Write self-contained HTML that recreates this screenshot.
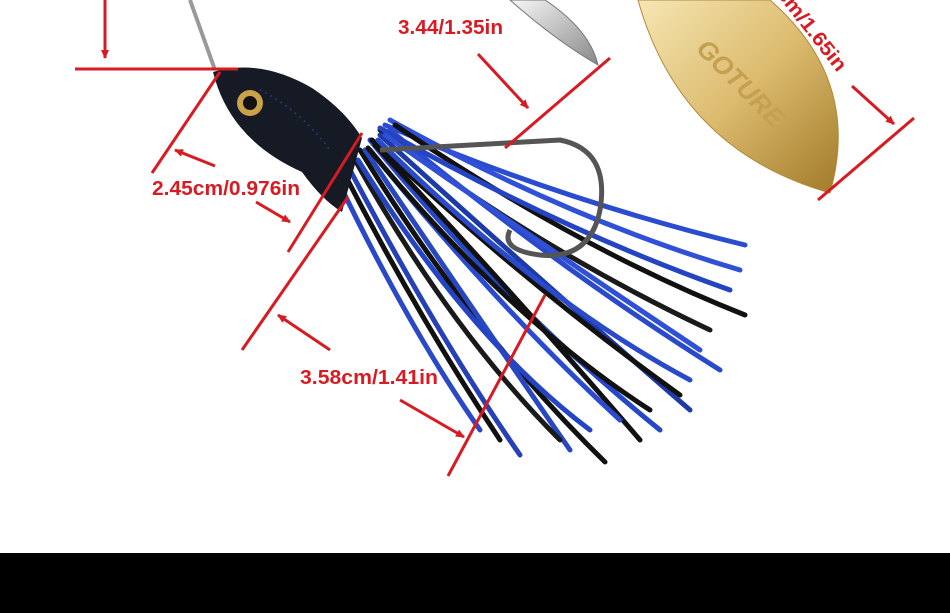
<!DOCTYPE html>
<html><head><meta charset="utf-8"><style>
html,body{margin:0;padding:0;background:#fff;}
svg{display:block}
text{font-family:"Liberation Sans",sans-serif;font-weight:bold;fill:#d81a22;font-size:20px;}
</style></head><body>
<svg width="950" height="613" viewBox="0 0 950 613" xmlns="http://www.w3.org/2000/svg">
<defs>
<linearGradient id="gold" x1="0" y1="0" x2="1" y2="1">
<stop offset="0" stop-color="#f6e6b4"/><stop offset="0.5" stop-color="#dcbb6e"/><stop offset="1" stop-color="#a27a2a"/></linearGradient>
<linearGradient id="silv" x1="0" y1="0" x2="1" y2="1">
<stop offset="0" stop-color="#f7f7f7"/><stop offset="1" stop-color="#888"/></linearGradient>
<marker id="ah" markerWidth="10" markerHeight="10" refX="8" refY="5" orient="auto" markerUnits="userSpaceOnUse">
<path d="M0,1 L9,5 L0,9 Z" fill="#d81a22"/></marker>
</defs>
<rect width="950" height="613" fill="#fff"/>
<path d="M190,0 L215,70" stroke="#999" stroke-width="4" fill="none"/>
<path d="M510,0 L545,0 Q590,30 598,65 Q555,40 510,0Z" fill="url(#silv)" stroke="#777"/>
<path d="M638,0 L770,0 Q862,80 830,193 Q680,150 638,0Z" fill="url(#gold)" stroke="#b08a3a"/>
<text transform="translate(695,50) rotate(45)" style="fill:#c4a050;font-size:26px;font-style:italic">GOTURE</text>
<g stroke-width="5" stroke-linecap="round" fill="none">
<path d="M360,150 Q470,330 605,462" stroke="#111"/>
<path d="M350,170 Q440,340 520,455" stroke="#2640b8"/>
<path d="M345,175 Q420,320 500,440" stroke="#111"/>
<path d="M340,185 Q410,330 480,430" stroke="#2a48c8"/>
<path d="M370,140 Q500,300 660,430" stroke="#2448c8"/>
<path d="M380,130 Q540,250 710,330" stroke="#1a1a1a"/>
<path d="M385,125 Q560,200 745,245" stroke="#2a4cd0"/>
<path d="M390,120 Q570,220 740,270" stroke="#3050d8"/>
<path d="M380,135 Q540,280 690,410" stroke="#1c3aa8"/>
<path d="M375,145 Q520,300 640,440" stroke="#111"/>
<path d="M365,150 Q480,320 570,450" stroke="#2848c0"/>
<path d="M395,125 Q580,250 745,315" stroke="#111"/>
<path d="M390,130 Q560,270 720,370" stroke="#2a4acc"/>
<path d="M372,140 Q520,280 680,395" stroke="#111"/>
<path d="M355,160 Q450,330 560,440" stroke="#1a1a1a"/>
<path d="M380,128 Q560,230 730,290" stroke="#2444c4"/>
<path d="M370,150 Q500,310 620,420" stroke="#2a4ad0"/>
<path d="M385,135 Q550,250 700,350" stroke="#3050d8"/>
<path d="M368,148 Q510,320 650,410" stroke="#111"/>
<path d="M378,140 Q540,300 690,380" stroke="#2a4acc"/>
<path d="M358,160 Q470,340 590,430" stroke="#2444c4"/>
</g>
<path d="M380,150 L560,140 Q610,150 600,210 Q590,260 540,255 Q500,250 510,230" stroke="#555" stroke-width="5" fill="none"/>
<path d="M213,72 Q260,58 312,88 Q345,110 362,138 L342,212 Q322,200 302,172 Q230,140 213,72Z" fill="#151a25"/>
<path d="M260,90 Q300,110 330,150" stroke="#2a4aa0" stroke-width="2" stroke-dasharray="1 5" fill="none"/>
<circle cx="250" cy="103" r="13" fill="#c9a24a"/><circle cx="250" cy="103" r="7" fill="#111"/>
<g stroke="#d81a22" stroke-width="3" fill="none">
<line x1="75" y1="69" x2="238" y2="69"/>
<line x1="105" y1="0" x2="105" y2="58" marker-end="url(#ah)"/>
<line x1="152" y1="173" x2="220" y2="72"/>
<line x1="288" y1="252" x2="362" y2="133"/>
<line x1="215" y1="166" x2="175" y2="150" marker-end="url(#ah)"/>
<line x1="256" y1="202" x2="290" y2="222" marker-end="url(#ah)"/>
<line x1="505" y1="148" x2="610" y2="58"/>
<line x1="478" y1="54" x2="528" y2="108" marker-end="url(#ah)"/>
<line x1="818" y1="200" x2="914" y2="118"/>
<line x1="852" y1="86" x2="894" y2="124" marker-end="url(#ah)"/>
<line x1="242" y1="350" x2="348" y2="197"/>
<line x1="448" y1="476" x2="545" y2="295"/>
<line x1="330" y1="350" x2="278" y2="315" marker-end="url(#ah)"/>
<line x1="400" y1="400" x2="464" y2="437" marker-end="url(#ah)"/>
</g>
<text x="152" y="195" textLength="148" lengthAdjust="spacingAndGlyphs">2.45cm/0.976in</text>
<text x="398" y="34" textLength="105" lengthAdjust="spacingAndGlyphs">3.44/1.35in</text>
<text x="300" y="384" textLength="138" lengthAdjust="spacingAndGlyphs">3.58cm/1.41in</text>
<text transform="translate(776,-6) rotate(52)" textLength="100" lengthAdjust="spacingAndGlyphs">cm/1.65in</text>
<rect x="0" y="553" width="950" height="60" fill="#000"/>
</svg>
</body></html>
